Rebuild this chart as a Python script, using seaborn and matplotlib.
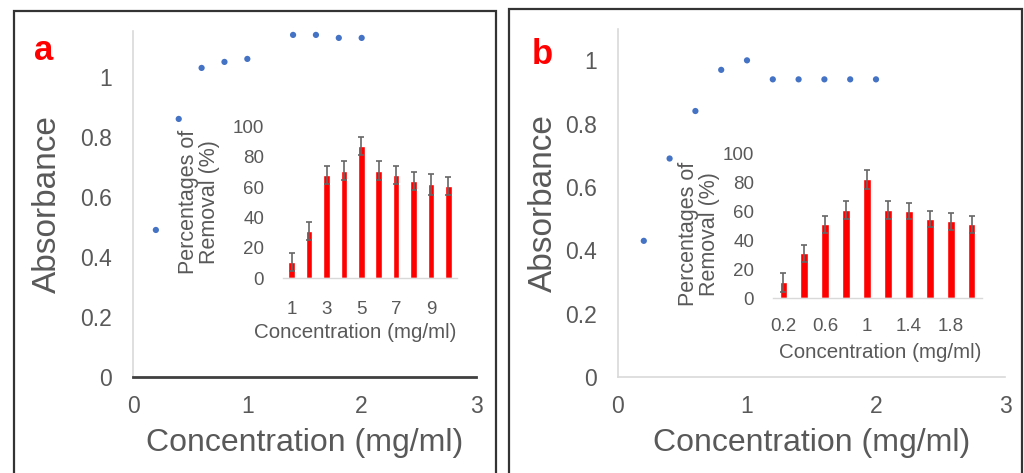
import numpy as np
import pandas as pd
import seaborn as sns
import matplotlib.pyplot as plt
from matplotlib.patches import Rectangle

sns.set_style('white')
plt.rcParams['font.family'] = ['Liberation Sans', 'DejaVu Sans']

GREY = '#595959'

# main scatter data
a_conc = [0.2, 0.4, 0.6, 0.8, 1.0, 1.4, 1.6, 1.8, 2.0]
a_abs = [0.49, 0.86, 1.03, 1.05, 1.06, 1.14, 1.14, 1.13, 1.13]
b_conc = [0.2, 0.4, 0.6, 0.8, 1.0, 1.2, 1.4, 1.6, 1.8, 2.0]
b_abs = [0.43, 0.69, 0.84, 0.97, 1.00, 0.94, 0.94, 0.94, 0.94, 0.94]

main_xticks = [0, 1, 2, 3]
main_yticks = [0, 0.2, 0.4, 0.6, 0.8, 1]
main_ylabels = ['0', '0.2', '0.4', '0.6', '0.8', '1']

# inset bar data
a_cat = ['1', '2', '3', '4', '5', '6', '7', '8', '9', '10']
a_removal = [11, 31, 68, 71, 87, 71, 68, 64, 62, 61]
a_err = [6, 6, 6, 6, 6, 6, 6, 6, 7, 6]
a_ticklabels = ['1', '', '3', '', '5', '', '7', '', '9', '']

b_cat = ['0.2', '0.4', '0.6', '0.8', '1', '1.2', '1.4', '1.6', '1.8', '2']
b_removal = [11, 31, 51, 61, 82, 61, 60, 55, 53, 51]
b_err = [6.5, 6, 6, 6, 6.5, 6, 5.5, 5.5, 6, 6]
b_ticklabels = ['0.2', '', '0.6', '', '1', '', '1.4', '', '1.8', '']

inset_yticks = [0, 20, 40, 60, 80, 100]


def main_panel(fig, rect, conc, absb, ytop, bottom_dark, ylab_x):
    ax = fig.add_axes(rect)
    df = pd.DataFrame({'conc': conc, 'abs': absb})
    sns.scatterplot(data=df, x='conc', y='abs', ax=ax, color='#4472C4', s=20,
                    edgecolor='none', zorder=3)
    ax.set_xlim(0, 3)
    ax.set_ylim(0, ytop)
    ax.set_xticks(main_xticks)
    ax.set_xticklabels([str(t) for t in main_xticks])
    ax.set_yticks(main_yticks)
    ax.set_yticklabels(main_ylabels)
    ax.tick_params(axis='both', length=0, labelsize=16.5, colors=GREY)
    ax.tick_params(axis='x', pad=13)
    ax.tick_params(axis='y', pad=15)
    for s in ['top', 'right']:
        ax.spines[s].set_visible(False)
    ax.spines['left'].set_color('#D9D9D9')
    ax.spines['left'].set_linewidth(1.2)
    if bottom_dark:
        ax.spines['bottom'].set_color('#404040')
        ax.spines['bottom'].set_linewidth(2)
    else:
        ax.spines['bottom'].set_color('#D9D9D9')
        ax.spines['bottom'].set_linewidth(1.2)
    ax.set_xlabel('Concentration (mg/ml)', fontsize=23, color=GREY)
    ax.set_ylabel('Absorbance', fontsize=24, color=GREY)
    ax.xaxis.set_label_coords(0.5, -0.19)
    ax.xaxis.label.set_va('center')
    ax.yaxis.set_label_coords(ylab_x, 0.5)
    ax.yaxis.label.set_va('center')
    return ax


def inset_panel(fig, rect, cats, vals, err, ticklabels, ylab_xy, xlab_xy, xpad):
    ax = fig.add_axes(rect)
    sns.barplot(x=cats, y=vals, ax=ax, color='#FF0000', saturation=1,
                width=0.37, errorbar=None)
    ax.errorbar(np.arange(len(cats)), vals, yerr=err, fmt='none',
                ecolor='#666666', elinewidth=1.2, capsize=2.2, capthick=1.2)
    ax.set_xlim(-0.5, len(cats) - 0.5)
    ax.set_ylim(0, 100)
    ax.set_yticks(inset_yticks)
    ax.set_xticks(np.arange(len(cats)))
    ax.set_xticklabels(ticklabels)
    ax.tick_params(axis='both', length=0, labelsize=13.5, colors=GREY)
    ax.tick_params(axis='x', pad=xpad)
    ax.tick_params(axis='y', pad=13.5)
    for s in ['top', 'right', 'left']:
        ax.spines[s].set_visible(False)
    ax.spines['bottom'].set_color('#D9D9D9')
    ax.spines['bottom'].set_linewidth(1)
    ax.patch.set_alpha(0)
    ax.set_xlabel('Concentration (mg/ml)', fontsize=14.8, color=GREY)
    ax.set_ylabel('Percentages of\nRemoval (%)', fontsize=15.5, color=GREY,
                  linespacing=0.95)
    ax.xaxis.set_label_coords(*xlab_xy)
    ax.xaxis.label.set_va('center')
    ax.yaxis.set_label_coords(*ylab_xy)
    ax.yaxis.label.set_va('center')
    return ax


fig = plt.figure(figsize=(10.24, 4.73), dpi=100)
W, H = 1024, 473

# panel frames
fig.add_artist(Rectangle((14 / W, -0.1), (496 - 14) / W, 1.1 - 11 / H,
                         transform=fig.transFigure, fill=False,
                         edgecolor='#333333', lw=1.6))
fig.add_artist(Rectangle((509 / W, -0.1), (1022 - 509) / W, 1.1 - 9 / H,
                         transform=fig.transFigure, fill=False,
                         edgecolor='#333333', lw=1.6))

main_panel(fig, [133 / W, 1 - 377 / H, 343 / W, 346 / H], a_conc, a_abs,
           1.153, True, -0.249)
main_panel(fig, [618 / W, 1 - 377 / H, 387 / W, 348 / H], b_conc, b_abs,
           1.099, False, -0.1925)

inset_panel(fig, [283 / W, 1 - 278.3 / H, 174 / W, 151.7 / H], a_cat,
            a_removal, a_err, a_ticklabels, (-0.483, 0.503), (0.414, -0.36), 16)
inset_panel(fig, [773 / W, 1 - 298.3 / H, 209 / W, 145 / H], b_cat,
            b_removal, b_err, b_ticklabels, (-0.354, 0.443), (0.512, -0.375), 14)

fig.text(44 / W, 1 - 51 / H, 'a', color='#FF0000', fontsize=25,
         fontweight='bold', ha='center', va='center')
fig.text(542 / W, 1 - 54 / H, 'b', color='#FF0000', fontsize=25,
         fontweight='bold', ha='center', va='center')

fig.savefig('out.png', dpi=100)
